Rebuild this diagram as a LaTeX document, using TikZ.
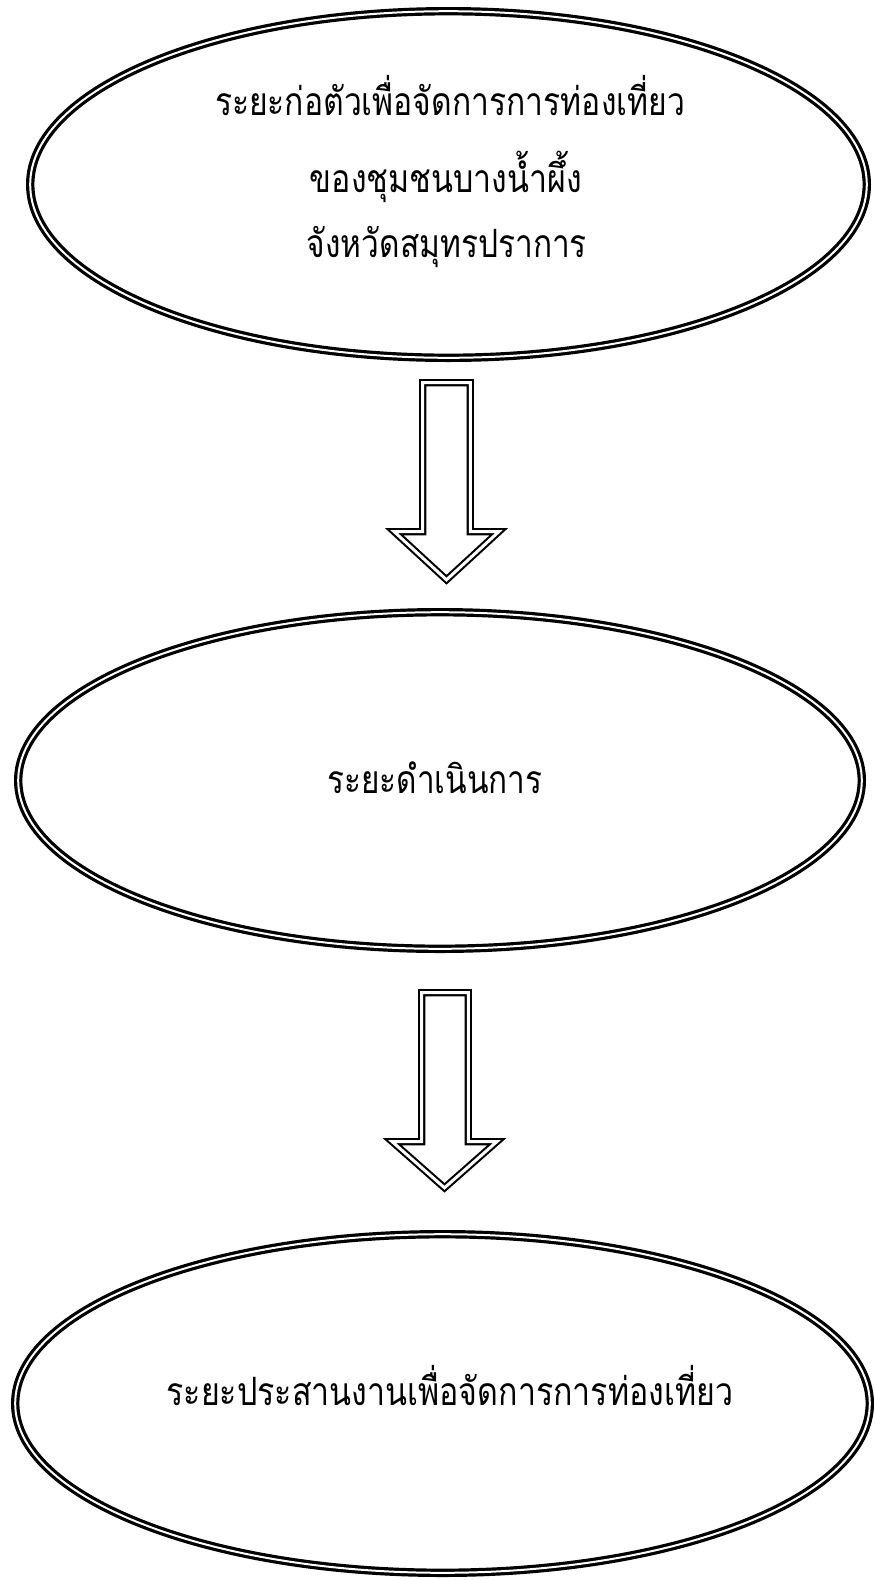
\documentclass[tikz,border=0pt]{standalone}
\usepackage{fontspec}
\usepackage{graphicx}
\usetikzlibrary{shapes.geometric,calc}
\newfontfamily\thaifont[Script=Thai]{Loma}
\newcommand\fitwidth[2]{\resizebox{#1}{\height}{#2}}
\begin{document}
\begin{tikzpicture}[x=1pt,y=-1pt,
  stage/.style={ellipse,draw,double,line width=3.2pt,double distance=2pt,inner sep=0pt},
  blockarrow/.style={draw,double,line width=2.1pt,double distance=3pt,line join=miter},
  label/.style={font=\thaifont\fontsize{39}{41}\selectfont,inner sep=0pt,anchor=base}]
\useasboundingbox (0,0) rectangle (875,1580);
\node[stage,minimum width=836.6pt,minimum height=346.6pt] (e1) at (448.5,184.5) {};
\node[stage,minimum width=843.6pt,minimum height=336.6pt] (e2) at (440,780.5) {};
\node[stage,minimum width=854.6pt,minimum height=338.6pt] (e3) at (442.5,1403.5) {};
\node[label] (t1a) at (450,115) {\fitwidth{470pt}{ระยะก่อตัวเพื่อจัดการการท่องเที่ยว}};
\node[label] (t1b) at (446,192) {\fitwidth{272pt}{ของชุมชนบางน้ำผึ้ง}};
\node[label] (t1c) at (447,257) {\fitwidth{280pt}{จังหวัดสมุทรปราการ}};
\node[label] (t2) at (435,793) {\fitwidth{215pt}{ระยะดำเนินการ}};
\node[label] (t3) at (450,1405) {\fitwidth{567pt}{ระยะประสานงานเพื่อจัดการการท่องเที่ยว}};
% arrow 1 : from e1 down to e2
\coordinate (a1top) at (446.5,382.7);
\coordinate (a1tip) at (446.5,579.8);
\draw[blockarrow] ($(a1top)+(-23.8,0)$) -- ($(a1tip)+(-23.8,-48.1)$) -- ($(a1tip)+(-52.3,-48.1)$) -- (a1tip)
  -- ($(a1tip)+(52.3,-48.1)$) -- ($(a1tip)+(23.8,-48.1)$) -- ($(a1top)+(23.8,0)$) -- cycle;
% arrow 2 : from e2 down to e3
\coordinate (a2top) at (445,992.7);
\coordinate (a2tip) at (444.5,1187.8);
\draw[blockarrow] ($(a2top)+(-23.3,0)$) -- ($(a2tip)+(-22.8,-46.1)$) -- ($(a2tip)+(-52.3,-46.1)$) -- (a2tip)
  -- ($(a2tip)+(52.3,-46.1)$) -- ($(a2tip)+(23.8,-46.1)$) -- ($(a2top)+(23.3,0)$) -- cycle;
\end{tikzpicture}
\end{document}
